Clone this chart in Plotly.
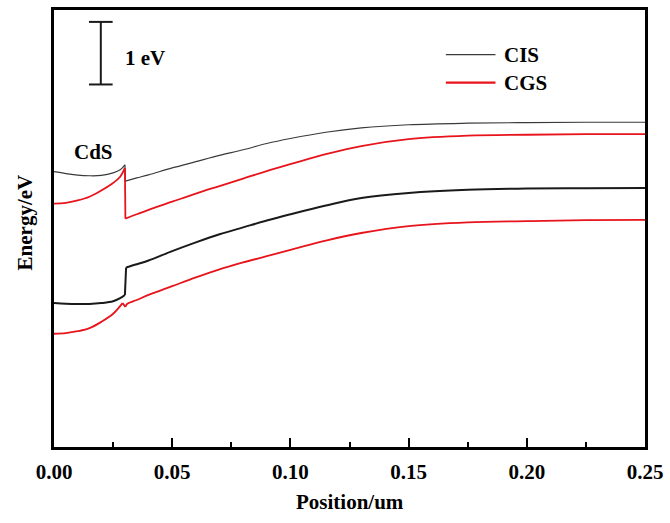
import plotly.graph_objects as go

# ---------------- data (Position in um, Energy in eV) ----------------
# CIS conduction band
x_cis_cb_cds = [0, 0.005, 0.01, 0.015, 0.02, 0.025, 0.028, 0.030]
e_cis_cb_cds = [4.40, 4.37, 4.345, 4.335, 4.34, 4.38, 4.43, 4.51]
x_cis_cb_abs = [0.0302, 0.035, 0.04, 0.05, 0.06, 0.07, 0.08, 0.09, 0.10, 0.115, 0.13, 0.15,
                0.175, 0.20, 0.225, 0.25]
e_cis_cb_abs = [4.25, 4.30, 4.35, 4.46, 4.56, 4.66, 4.75, 4.85, 4.93, 5.03, 5.10, 5.15,
                5.175, 5.185, 5.19, 5.19]

# CGS conduction band
x_cgs_cb_cds = [0, 0.005, 0.01, 0.015, 0.02, 0.025, 0.028, 0.030]
e_cgs_cb_cds = [3.89, 3.90, 3.94, 4.00, 4.10, 4.22, 4.32, 4.46]
x_cgs_cb_abs = [0.0302, 0.035, 0.04, 0.05, 0.06, 0.07, 0.08, 0.09, 0.10, 0.115, 0.13, 0.15,
                0.175, 0.20, 0.225, 0.25]
e_cgs_cb_abs = [3.65, 3.72, 3.79, 3.92, 4.05, 4.17, 4.29, 4.41, 4.52, 4.68, 4.81, 4.92,
                4.975, 4.99, 5.00, 5.00]

# CIS valence band
x_cis_vb_cds = [0, 0.005, 0.01, 0.015, 0.02, 0.025, 0.028, 0.030]
e_cis_vb_cds = [2.30, 2.29, 2.285, 2.285, 2.30, 2.33, 2.38, 2.43]
x_cis_vb_abs = [0.0305, 0.035, 0.04, 0.05, 0.06, 0.07, 0.08, 0.09, 0.10, 0.115, 0.13, 0.15,
                0.175, 0.20, 0.225, 0.25]
e_cis_vb_abs = [2.87, 2.92, 2.98, 3.13, 3.27, 3.40, 3.51, 3.62, 3.72, 3.86, 3.98, 4.06,
                4.11, 4.13, 4.135, 4.14]

# CGS valence band
x_cgs_vb_cds = [0, 0.005, 0.01, 0.015, 0.02, 0.025, 0.029]
e_cgs_vb_cds = [1.81, 1.82, 1.85, 1.90, 2.00, 2.13, 2.30]
x_cgs_vb_abs = [0.0302, 0.031, 0.035, 0.04, 0.05, 0.06, 0.07, 0.08, 0.09, 0.10, 0.115, 0.13,
                0.15, 0.175, 0.20, 0.225, 0.25]
e_cgs_vb_abs = [2.24, 2.29, 2.35, 2.43, 2.57, 2.71, 2.84, 2.95, 3.05, 3.15, 3.30, 3.42,
                3.53, 3.59, 3.61, 3.625, 3.63]

x_ticks = [0.00, 0.05, 0.10, 0.15, 0.20, 0.25]
x_tick_labels = ["0.00", "0.05", "0.10", "0.15", "0.20", "0.25"]
x_minor_ticks = [0.025, 0.075, 0.125, 0.175, 0.225]

legend_names = ["CIS", "CGS"]

# scale bar (1 eV)
bar_x = 0.0198
bar_half = 0.005
bar_bottom = 5.794
bar_len = 1.0

FONT = "Liberation Serif, Times New Roman, serif"
BLACK = "#1a1a1a"
GREY = "#3a3a3a"
RED = "#e8141c"

bands = [
    ("CIS", x_cis_cb_cds, e_cis_cb_cds, x_cis_cb_abs, e_cis_cb_abs, GREY, 1.2),
    ("CGS", x_cgs_cb_cds, e_cgs_cb_cds, x_cgs_cb_abs, e_cgs_cb_abs, RED, 1.8),
    ("CIS", x_cis_vb_cds, e_cis_vb_cds, x_cis_vb_abs, e_cis_vb_abs, BLACK, 2.0),
    ("CGS", x_cgs_vb_cds, e_cgs_vb_cds, x_cgs_vb_abs, e_cgs_vb_abs, RED, 1.8),
]

fig = go.Figure()
for name, xc, ec, xa, ea, col, w in bands:
    ln = dict(color=col, width=w)
    # CdS region (smooth)
    fig.add_trace(go.Scatter(x=xc, y=ec, mode="lines", name=name, line=dict(ln, shape="spline"),
                             showlegend=False))
    # interface step
    fig.add_trace(go.Scatter(x=[xc[-1], xa[0]], y=[ec[-1], ea[0]], mode="lines", name=name,
                             line=ln, showlegend=False))
    # absorber region (smooth)
    fig.add_trace(go.Scatter(x=xa, y=ea, mode="lines", name=name, line=dict(ln, shape="spline"),
                             showlegend=False))

# legend (drawn manually to match the original key layout)
legend_styles = [dict(color=GREY, width=1.3), dict(color=RED, width=2.2)]
legend_y = [0.898, 0.834]
for nm, st, yy in zip(legend_names, legend_styles, legend_y):
    fig.add_shape(type="line", xref="paper", yref="paper", x0=0.663, x1=0.747,
                  y0=yy, y1=yy, line=st)
    fig.add_annotation(x=0.758, y=yy, xref="paper", yref="paper", text=nm,
                       showarrow=False, xanchor="left", yanchor="middle",
                       font=dict(family=FONT, size=21, color="black", weight="bold"))

# scale bar
fig.add_shape(type="line", xref="x", yref="y", x0=bar_x, x1=bar_x,
              y0=bar_bottom, y1=bar_bottom + bar_len, line=dict(color=BLACK, width=2))
for yy in (bar_bottom, bar_bottom + bar_len):
    fig.add_shape(type="line", xref="x", yref="y", x0=bar_x - bar_half, x1=bar_x + bar_half,
                  y0=yy, y1=yy, line=dict(color=BLACK, width=2))

fig.add_annotation(x=0.029, y=bar_bottom + 0.43, xref="x", yref="y", text="1 eV",
                   showarrow=False, xanchor="left", yanchor="middle",
                   font=dict(family=FONT, size=21, color="black", weight="bold"))
fig.add_annotation(x=0.0168, y=4.72, xref="x", yref="y", text="CdS",
                   showarrow=False, xanchor="center", yanchor="middle",
                   font=dict(family=FONT, size=21, color="black", weight="bold"))

# axis titles
fig.add_annotation(x=0.5, y=-0.125, xref="paper", yref="paper", text="Position/um",
                   showarrow=False, xanchor="center", yanchor="middle",
                   font=dict(family=FONT, size=21, color="black", weight="bold"))
fig.add_annotation(x=-0.049, y=0.514, xref="paper", yref="paper", text="Energy/eV",
                   showarrow=False, xanchor="center", yanchor="middle", textangle=-90,
                   font=dict(family=FONT, size=21, color="black", weight="bold"))

fig.update_layout(
    width=670, height=523,
    margin=dict(l=54, r=22, t=7, b=76),
    paper_bgcolor="white", plot_bgcolor="white",
    font=dict(family=FONT, size=21, color="black", weight="bold"),
    showlegend=False,
    xaxis=dict(range=[0, 0.25], tickmode="array", tickvals=x_ticks, ticktext=x_tick_labels,
               ticks="inside", ticklen=9, tickwidth=2, tickcolor="black",
               minor=dict(ticks="inside", ticklen=5, tickwidth=2, tickmode="array",
                          tickvals=x_minor_ticks, tickcolor="black", showgrid=False),
               showline=True, linecolor="black", linewidth=2.5, mirror=True,
               showgrid=False, zeroline=False, ticklabelstandoff=4,
               tickfont=dict(family=FONT, size=21, color="black", weight="bold")),
    yaxis=dict(range=[0, 440 / 63], showticklabels=False, ticks="",
               showline=True, linecolor="black", linewidth=2.5, mirror=True,
               showgrid=False, zeroline=False),
)

fig.write_html("out.html")
